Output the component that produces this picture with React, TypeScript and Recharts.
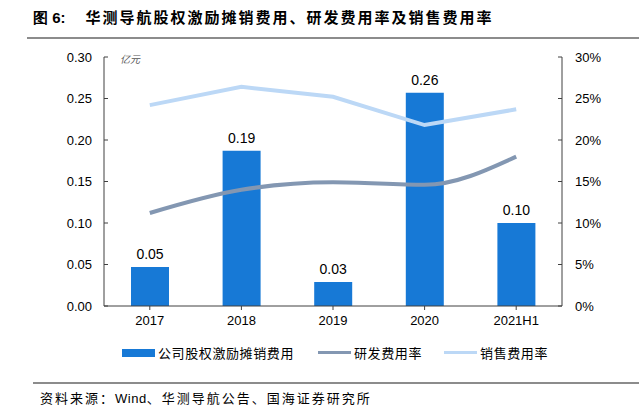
import React from 'react';
import { ComposedChart, Bar, Line, XAxis, YAxis, LabelList } from 'recharts';

const years = ['2017', '2018', '2019', '2020', '2021H1'];
const stockIncentive = [0.047, 0.187, 0.029, 0.257, 0.1];
const rdRate = [11.2, 14.0, 14.9, 14.6, 18.0];
const salesRate = [24.2, 26.4, 25.2, 21.8, 23.7];
const leftTicks = [0, 0.05, 0.1, 0.15, 0.2, 0.25, 0.3];
const rightTicks = [0, 5, 10, 15, 20, 25, 30];

const data = years.map((year, i) => ({
  year,
  incentive: stockIncentive[i],
  rd: rdRate[i],
  sales: salesRate[i],
}));

const BAR = '#1779d6';
const RD = '#8397b2';
const SALES = '#bcd8f6';
const latin = 'Liberation Sans, Arial, sans-serif';
const tickStyle = { fontSize: 13, fill: '#000', fontFamily: latin };
const cjk = '"Noto Sans CJK SC", sans-serif';

export default function App() {
  return (
    <div style={{ position: 'absolute', left: 0, top: 0, width: 639, height: 412, background: '#fff' }}>
      <div
        style={{
          position: 'absolute',
          left: 33,
          top: 6,
          fontSize: 15,
          fontWeight: 'bold',
          fontFamily: cjk,
          whiteSpace: 'nowrap',
          letterSpacing: 2,
        }}
      >
        <span style={{ fontFamily: latin, letterSpacing: 0 }}>图 6:</span>
        <span style={{ marginLeft: 20 }}>华测导航股权激励摊销费用、研发费用率及销售费用率</span>
      </div>
      <div style={{ position: 'absolute', left: 27, top: 37, width: 612, height: 2, background: '#8c8c8c' }} />

      <ComposedChart
        width={639}
        height={412}
        data={data}
        margin={{ top: 57, right: 27, left: 44, bottom: 76 }}
        style={{ position: 'absolute', left: 0, top: 0 }}
      >
        <XAxis
          dataKey="year"
          tick={tickStyle}
          tickLine={{ stroke: '#404040' }}
          axisLine={{ stroke: '#404040' }}
          tickSize={4}
          tickMargin={6}
          height={30}
          interval={0}
        />
        <YAxis
          yAxisId="left"
          domain={[0, 0.3]}
          ticks={leftTicks}
          tickFormatter={(v: number) => v.toFixed(2)}
          tick={tickStyle}
          tickLine={{ stroke: '#404040' }}
          axisLine={{ stroke: '#404040' }}
          tickSize={-4}
          tickMargin={16}
          width={60}
          interval={0}
        />
        <YAxis
          yAxisId="right"
          orientation="right"
          domain={[0, 30]}
          ticks={rightTicks}
          tickFormatter={(v: number) => `${v}%`}
          tick={{ ...tickStyle, textAnchor: 'start' }}
          tickLine={{ stroke: '#404040' }}
          axisLine={{ stroke: '#404040' }}
          tickSize={-4}
          tickMargin={17}
          width={50}
          interval={0}
        />
        <Bar yAxisId="left" dataKey="incentive" fill={BAR} barSize={38} isAnimationActive={false}>
          <LabelList
            dataKey="incentive"
            position="top"
            offset={8}
            formatter={(v: number) => v.toFixed(2)}
            style={{ fontSize: 14, fill: '#000', fontFamily: latin }}
          />
        </Bar>
        <Line
          yAxisId="right"
          dataKey="rd"
          type="monotone"
          stroke={RD}
          strokeWidth={4}
          dot={false}
          isAnimationActive={false}
        />
        <Line
          yAxisId="right"
          dataKey="sales"
          type="linear"
          stroke={SALES}
          strokeWidth={4}
          dot={false}
          isAnimationActive={false}
        />
      </ComposedChart>

      <div
        style={{
          position: 'absolute',
          left: 120,
          top: 51,
          fontSize: 10,
          fontStyle: 'italic',
          color: '#555',
          fontFamily: cjk,
        }}
      >
        亿元
      </div>

      <div
        style={{
          position: 'absolute',
          top: 343,
          left: 122,
          display: 'flex',
          alignItems: 'center',
          fontSize: 13,
          fontFamily: cjk,
          whiteSpace: 'nowrap',
          color: '#000',
          letterSpacing: 0.6,
        }}
      >
        <span style={{ display: 'inline-block', width: 33, height: 8, background: BAR, marginRight: 3 }} />
        <span style={{ marginRight: 24 }}>公司股权激励摊销费用</span>
        <span style={{ display: 'inline-block', width: 33, height: 3, background: RD, marginRight: 3 }} />
        <span style={{ marginRight: 22 }}>研发费用率</span>
        <span style={{ display: 'inline-block', width: 33, height: 3, background: SALES, marginRight: 3 }} />
        <span>销售费用率</span>
      </div>

      <div style={{ position: 'absolute', left: 33, top: 382, width: 606, height: 2, background: '#8c8c8c' }} />
      <div
        style={{
          position: 'absolute',
          left: 40,
          top: 388,
          fontSize: 13,
          fontFamily: cjk,
          whiteSpace: 'nowrap',
          color: '#000',
          letterSpacing: 2,
        }}
      >
        资料来源：<span style={{ fontFamily: latin, letterSpacing: 0.5 }}>Wind</span>、华测导航公告、国海证券研究所
      </div>
    </div>
  );
}
